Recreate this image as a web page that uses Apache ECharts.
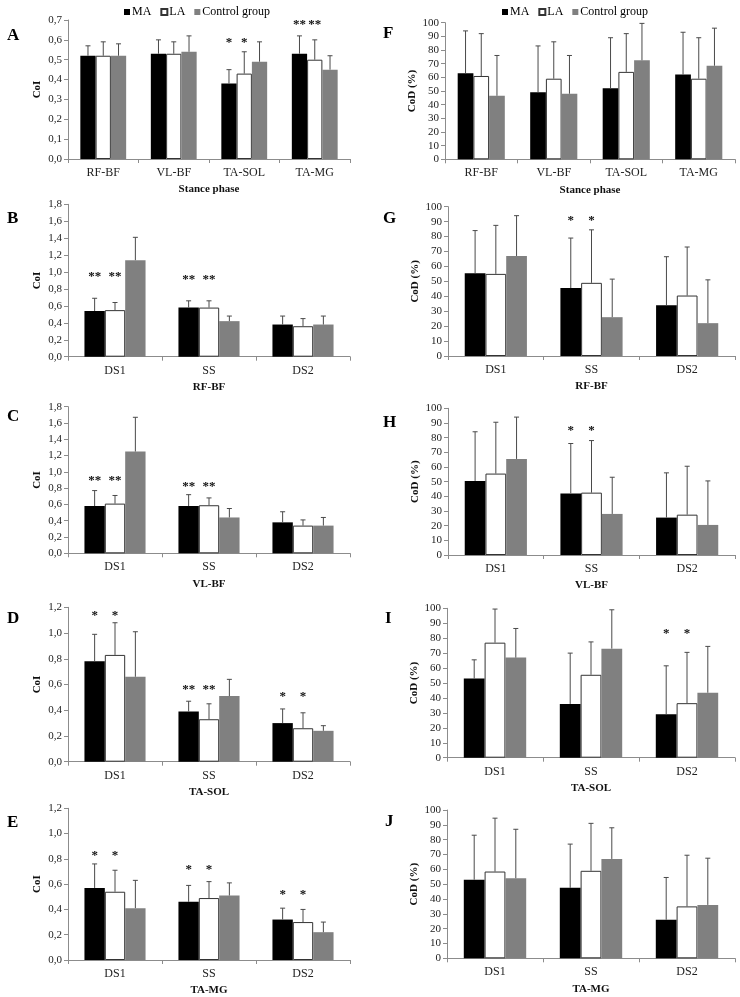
<!DOCTYPE html>
<html><head><meta charset="utf-8">
<script src="https://cdn.jsdelivr.net/npm/echarts@6/dist/echarts.min.js"></script>
<style>html,body{margin:0;padding:0;background:#fff}#c{width:740px;height:997px}</style>
</head><body><div id="c"></div>
<script>
// ---------- DATA ----------
const groups = ['MA', 'LA', 'Control group'];
const catsStance = ['RF-BF', 'VL-BF', 'TA-SOL', 'TA-MG'];
const catsPhase = ['DS1', 'SS', 'DS2'];

// Panel A (CoI, stance phase)
const A_MA = [0.52, 0.53, 0.38, 0.53], A_MA_sd = [0.05, 0.07, 0.07, 0.09];
const A_LA = [0.52, 0.53, 0.43, 0.50], A_LA_sd = [0.07, 0.06, 0.11, 0.10];
const A_CG = [0.52, 0.54, 0.49, 0.45], A_CG_sd = [0.06, 0.08, 0.10, 0.07];
const A_star = ['', '', '*', '**'], A_starLevel = [null, null, 0.60, 0.69];
// Panel F (CoD %, stance phase)
const F_MA = [63, 49, 52, 62], F_MA_sd = [31, 34, 37, 31];
const F_LA = [61, 59, 64, 59], F_LA_sd = [31, 27, 28, 30];
const F_CG = [46.5, 48, 72.5, 68.5], F_CG_sd = [29.5, 28, 27, 27.5];
const F_star = ['', '', '', ''], F_starLevel = [null, null, null, null];
// Panel B (CoI, RF-BF)
const B_MA = [0.54, 0.58, 0.38], B_MA_sd = [0.15, 0.08, 0.10];
const B_LA = [0.55, 0.58, 0.36], B_LA_sd = [0.09, 0.08, 0.09];
const B_CG = [1.14, 0.42, 0.38], B_CG_sd = [0.27, 0.06, 0.10];
const B_star = ['**', '**', ''], B_starLevel = [0.98, 0.94, null];
// Panel G (CoD %, RF-BF)
const G_MA = [55.5, 45.5, 34], G_MA_sd = [28.5, 33.5, 32.5];
const G_LA = [55, 49, 40.5], G_LA_sd = [32.5, 35.5, 32.5];
const G_CG = [67, 26, 22], G_CG_sd = [27, 25.5, 29];
const G_star = ['', '*', ''], G_starLevel = [null, 93, null];
// Panel C (CoI, VL-BF)
const C_MA = [0.58, 0.58, 0.38], C_MA_sd = [0.19, 0.14, 0.13];
const C_LA = [0.61, 0.59, 0.34], C_LA_sd = [0.10, 0.09, 0.07];
const C_CG = [1.25, 0.44, 0.34], C_CG_sd = [0.42, 0.11, 0.10];
const C_star = ['**', '**', ''], C_starLevel = [0.93, 0.86, null];
// Panel H (CoD %, VL-BF)
const H_MA = [50.5, 42, 25.5], H_MA_sd = [33.5, 34, 30.5];
const H_LA = [55.5, 42.5, 27.5], H_LA_sd = [35, 35.5, 33];
const H_CG = [65.5, 28, 20.5], H_CG_sd = [28.5, 25, 30];
const H_star = ['', '*', ''], H_starLevel = [null, 86.5, null];
// Panel D (CoI, TA-SOL)
const D_MA = [0.78, 0.39, 0.30], D_MA_sd = [0.21, 0.08, 0.11];
const D_LA = [0.83, 0.33, 0.26], D_LA_sd = [0.25, 0.12, 0.12];
const D_CG = [0.66, 0.51, 0.24], D_CG_sd = [0.35, 0.13, 0.04];
const D_star = ['*', '**', '*'], D_starLevel = [1.16, 0.58, 0.53];
// Panel I (CoD %, TA-SOL)
const I_MA = [53, 36, 29], I_MA_sd = [12.5, 34, 32.5];
const I_LA = [77, 55.5, 36.5], I_LA_sd = [22.5, 22, 34];
const I_CG = [67, 73, 43.5], I_CG_sd = [19.5, 26, 31];
const I_star = ['', '', '*'], I_starLevel = [null, null, 85];
// Panel E (CoI, TA-MG)
const E_MA = [0.57, 0.46, 0.32], E_MA_sd = [0.19, 0.13, 0.09];
const E_LA = [0.54, 0.49, 0.30], E_LA_sd = [0.17, 0.13, 0.10];
const E_CG = [0.41, 0.51, 0.22], E_CG_sd = [0.22, 0.10, 0.08];
const E_star = ['*', '*', '*'], E_starLevel = [0.85, 0.74, 0.54];
// Panel J (CoD %, TA-MG)
const J_MA = [53, 47.5, 26], J_MA_sd = [30, 29.5, 28.5];
const J_LA = [58.5, 59, 35], J_LA_sd = [36, 32, 34.5];
const J_CG = [54, 67, 36], J_CG_sd = [33, 21, 31.5];
const J_star = ['', '', ''], J_starLevel = [null, null, null];

// ---------- LAYOUT / BUILD ----------
const FONT = 'Liberation Serif';
const GAP = 0.35;
const colors = ['#000000', '#ffffff', '#808080'];

const panels = [
  {L:'A', cats:catsStance, m:[A_MA,A_LA,A_CG], s:[A_MA_sd,A_LA_sd,A_CG_sd], st:A_star, sl:A_starLevel, max:0.7, iv:0.1, coi:true, xn:'Stance phase', g:[68,20,282,139], lp:[7,27]},
  {L:'F', cats:catsStance, m:[F_MA,F_LA,F_CG], s:[F_MA_sd,F_LA_sd,F_CG_sd], st:F_star, sl:F_starLevel, max:100, iv:10, coi:false, xn:'Stance phase', g:[445,22.7,290,136.6], lp:[383,25]},
  {L:'B', cats:catsPhase, m:[B_MA,B_LA,B_CG], s:[B_MA_sd,B_LA_sd,B_CG_sd], st:B_star, sl:B_starLevel, max:1.8, iv:0.2, coi:true, xn:'RF-BF', g:[68,204.3,282,152.4], lp:[7,210]},
  {L:'G', cats:catsPhase, m:[G_MA,G_LA,G_CG], s:[G_MA_sd,G_LA_sd,G_CG_sd], st:G_star, sl:G_starLevel, max:100, iv:10, coi:false, xn:'RF-BF', g:[448,206.7,287,149.3], lp:[383,210]},
  {L:'C', cats:catsPhase, m:[C_MA,C_LA,C_CG], s:[C_MA_sd,C_LA_sd,C_CG_sd], st:C_star, sl:C_starLevel, max:1.8, iv:0.2, coi:true, xn:'VL-BF', g:[68,406.7,282,146.6], lp:[7,408]},
  {L:'H', cats:catsPhase, m:[H_MA,H_LA,H_CG], s:[H_MA_sd,H_LA_sd,H_CG_sd], st:H_star, sl:H_starLevel, max:100, iv:10, coi:false, xn:'VL-BF', g:[448,408.3,287,146.7], lp:[383,414]},
  {L:'D', cats:catsPhase, m:[D_MA,D_LA,D_CG], s:[D_MA_sd,D_LA_sd,D_CG_sd], st:D_star, sl:D_starLevel, max:1.2, iv:0.2, coi:true, xn:'TA-SOL', g:[68,607.3,282,154.4], lp:[7,610]},
  {L:'I', cats:catsPhase, m:[I_MA,I_LA,I_CG], s:[I_MA_sd,I_LA_sd,I_CG_sd], st:I_star, sl:I_starLevel, max:100, iv:10, coi:false, xn:'TA-SOL', g:[447,608.3,288,149.4], lp:[385,610]},
  {L:'E', cats:catsPhase, m:[E_MA,E_LA,E_CG], s:[E_MA_sd,E_LA_sd,E_CG_sd], st:E_star, sl:E_starLevel, max:1.2, iv:0.2, coi:true, xn:'TA-MG', g:[68,808.3,282,153.4], lp:[7,814]},
  {L:'J', cats:catsPhase, m:[J_MA,J_LA,J_CG], s:[J_MA_sd,J_LA_sd,J_CG_sd], st:J_star, sl:J_starLevel, max:100, iv:10, coi:false, xn:'TA-MG', g:[447,810,288,148.3], lp:[385,813]}
];

const grid = [], xAxis = [], yAxis = [], series = [], graphic = [];
const axisCol = '#8c8c8c';

panels.forEach((p, pi) => {
  grid.push({left:p.g[0], top:p.g[1], width:p.g[2], height:p.g[3]});
  xAxis.push({
    type:'category', gridIndex:pi, data:p.cats,
    axisLine:{lineStyle:{color:axisCol}}, axisTick:{show:true, length:4, lineStyle:{color:axisCol}},
    axisLabel:{fontFamily:FONT, fontSize:12, color:'#222', margin:8},
    name:p.xn, nameLocation:'middle', nameGap:25,
    nameTextStyle:{fontFamily:FONT, fontSize:11, fontWeight:'bold', color:'#111'}
  });
  yAxis.push({
    type:'value', gridIndex:pi, min:0, max:p.max, interval:p.iv,
    splitLine:{show:false},
    axisLine:{show:true, lineStyle:{color:axisCol}}, axisTick:{show:true, length:4, lineStyle:{color:axisCol}},
    axisLabel:{fontFamily:FONT, fontSize:11, color:'#222', margin:6,
      formatter: p.coi ? (v => v.toFixed(1).replace('.', ',')) : (v => String(v))},
    name: p.coi ? 'CoI' : 'CoD (%)', nameLocation:'middle', nameRotate:90, nameGap: p.coi ? 25 : 27,
    nameTextStyle:{fontFamily:FONT, fontSize:11, fontWeight:'bold', color:'#111'}
  });
  for (let k = 0; k < 3; k++) {
    series.push({
      type:'bar', name:groups[k], xAxisIndex:pi, yAxisIndex:pi,
      data:p.m[k], barGap:'0%', barCategoryGap:(GAP*100)+'%',
      itemStyle:{color:colors[k], borderColor: k === 1 ? '#333' : colors[k], borderWidth: k === 1 ? 1 : 0},
      emphasis:{disabled:true}, z:2
    });
  }
  for (let k = 0; k < 3; k++) {
    const means = p.m[k], sds = p.s[k];
    series.push({
      type:'custom', xAxisIndex:pi, yAxisIndex:pi, z:5, silent:true,
      data: means.map((v, i) => [i, v, sds[i]]),
      renderItem: (params, api) => {
        const i = api.value(0), m = api.value(1), s = api.value(2);
        const band = api.size([1, 0])[0];
        const bw = band * (1 - GAP) / 3;
        const base = api.coord([i, m]);
        const cx = base[0] + (k - 1) * bw;
        const y0 = base[1];
        const y1 = api.coord([i, m + s])[1];
        const lineStyle = {stroke:'#4a4a4a', lineWidth:1};
        const children = [
          {type:'line', shape:{x1:cx, y1:y0, x2:cx, y2:y1}, style:lineStyle},
          {type:'line', shape:{x1:cx - 2.5, y1:y1, x2:cx + 2.5, y2:y1}, style:lineStyle}
        ];
        const idx = params.dataIndex;
        if (k < 2 && p.st[idx] && p.sl[idx] != null) {
          const sy = api.coord([i, p.sl[idx]])[1];
          children.push({type:'text', style:{text:p.st[idx], x:cx, y:sy + 3, align:'center', verticalAlign:'middle',
            font:'bold 13px "' + FONT + '"', fill:'#111'}});
        }
        return {type:'group', children};
      }
    });
  }
  graphic.push({type:'text', left:p.lp[0], top:p.lp[1], style:{text:p.L, font:'bold 17px "' + FONT + '"', fill:'#000'}});
});

const legendCommon = {
  data:groups.map(n => ({name:n, icon:'rect'})), itemWidth:6, itemHeight:6, itemGap:9,
  textStyle:{fontFamily:FONT, fontSize:12, color:'#000', padding:[0,0,0,-3]}, selectedMode:false
};
const legend = [
  Object.assign({left:119, top:1}, legendCommon),
  Object.assign({left:497, top:1}, legendCommon)
];

const chart = echarts.init(document.getElementById('c'), null, {renderer:'canvas'});
chart.setOption({
  animation:false, textStyle:{fontFamily:FONT},
  grid, xAxis, yAxis, series, legend, graphic
});
</script>
</body></html>
